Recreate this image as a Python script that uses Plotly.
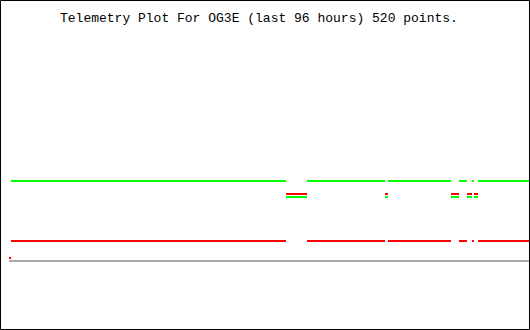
import plotly.graph_objects as go

# ---- data (hours over the last 96 h, arbitrary telemetry units) ----
seg_start_h = [0.37, 51.14, 55.02, 69.42, 69.97, 81.60, 83.08, 84.55, 85.48, 85.85, 86.58]
seg_end_h   = [51.14, 55.02, 69.42, 69.97, 81.60, 83.08, 84.55, 85.48, 85.85, 86.58, 96.00]
green_vals  = [80, 64, 80, 64, 80, 64, 80, 64, 80, 64, 80]
red_vals    = [20, 67, 20, 67, 20, 67, 20, 67, 20, 67, 20]
red_first_h = [0.0, 0.37]
red_first_v = [3, 3]

title_text = "Telemetry Plot For OG3E (last 96 hours) 520 points."


def runs(starts, ends, vals):
    xs, ys = [], []
    for s, e, v in zip(starts, ends, vals):
        xs += [s, e, None]
        ys += [v, v, None]
    return xs, ys


fig = go.Figure()
gx, gy = runs(seg_start_h, seg_end_h, green_vals)
rx, ry = runs(seg_start_h, seg_end_h, red_vals)
fig.add_trace(go.Scatter(x=gx, y=gy, mode="lines", line=dict(color="#00ff00", width=2),
                         connectgaps=False, hoverinfo="skip"))
fig.add_trace(go.Scatter(x=rx, y=ry, mode="lines", line=dict(color="#ff0000", width=2),
                         connectgaps=False, hoverinfo="skip"))
fig.add_trace(go.Scatter(x=red_first_h, y=red_first_v, mode="lines",
                         line=dict(color="#ff0000", width=2), hoverinfo="skip"))

fig.update_layout(
    width=530, height=330,
    margin=dict(l=9, r=1, t=0, b=0),
    paper_bgcolor="white", plot_bgcolor="white",
    showlegend=False,
    xaxis=dict(range=[0, 96], showgrid=False, zeroline=False, showticklabels=False,
               ticks="", showline=False),
    yaxis=dict(range=[-69, 261], showgrid=False, zeroline=True, zerolinecolor="#aaaaaa",
               zerolinewidth=2, showticklabels=False, ticks="", showline=False),
    annotations=[dict(text=title_text, xref="paper", yref="paper",
                      x=(258.5 - 9) / 520, y=1 - 18 / 330, xanchor="center", yanchor="middle",
                      showarrow=False,
                      font=dict(family="Liberation Mono", size=13, color="black"))],
    shapes=[dict(type="rect", xref="paper", yref="paper",
                 x0=-8.5 / 520, x1=(529.5 - 9) / 520, y0=0.5 / 330, y1=329.5 / 330,
                 line=dict(color="black", width=1), fillcolor="rgba(0,0,0,0)", layer="above")],
)

fig.write_html("out.html")
